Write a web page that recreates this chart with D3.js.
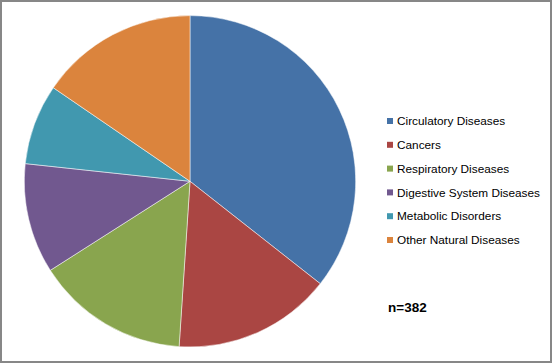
<!DOCTYPE html>
<html lang="en">
<head>
    <meta charset="UTF-8">
    <title>Natural Disease Deaths</title>
    <script src="https://d3js.org/d3.v7.min.js"></script>
    <style>
        body { margin: 0; background: #ffffff; overflow: hidden; }
        svg { display: block; font-family: 'Liberation Sans', Arial, sans-serif; }
    </style>
</head>
<body>
    <div id="chart"></div>
    <script>
        // data (n=382)
        const categories = ["Circulatory Diseases", "Cancers", "Respiratory Diseases",
                            "Digestive System Diseases", "Metabolic Disorders", "Other Natural Diseases"];
        const counts = [136, 59, 57, 41, 30, 59];
        const colors = ["#4572A7", "#AA4643", "#89A54E", "#71588F", "#4198AF", "#DB843D"];
        const sampleLabel = "n=382";

        const width = 552, height = 363;
        const cx = 190, cy = 181.3, radius = 165.7;

        const svg = d3.select("#chart").append("svg")
            .attr("width", width)
            .attr("height", height);

        // outer frame
        svg.append("rect")
            .attr("x", 1).attr("y", 1)
            .attr("width", width - 2).attr("height", height - 2)
            .attr("fill", "#ffffff")
            .attr("stroke", "#878787")
            .attr("stroke-width", 2);

        const pie = d3.pie().sort(null).value(d => d);
        const arc = d3.arc().innerRadius(0).outerRadius(radius);

        const g = svg.append("g").attr("transform", `translate(${cx},${cy})`);

        g.selectAll("path")
            .data(pie(counts))
            .enter().append("path")
            .attr("d", arc)
            .attr("fill", (d, i) => colors[i])
            .attr("stroke", "#ffffff")
            .attr("stroke-width", 0.5);

        // legend
        const legend = svg.append("g").attr("transform", "translate(387,121)");
        const rowH = 23.8;
        const item = legend.selectAll("g")
            .data(categories)
            .enter().append("g")
            .attr("transform", (d, i) => `translate(0,${i * rowH})`);

        item.append("rect")
            .attr("x", 0).attr("y", -3)
            .attr("width", 6).attr("height", 6)
            .attr("fill", (d, i) => colors[i]);

        item.append("text")
            .attr("x", 10).attr("y", 0)
            .attr("dy", "0.35em")
            .attr("font-size", 11.8)
            .attr("fill", "#000000")
            .text(d => d);

        svg.append("text")
            .attr("x", 388).attr("y", 307)
            .attr("dy", "0.35em")
            .attr("font-size", 13.5)
            .attr("font-weight", "bold")
            .attr("fill", "#000000")
            .text(sampleLabel);
    </script>
</body>
</html>
